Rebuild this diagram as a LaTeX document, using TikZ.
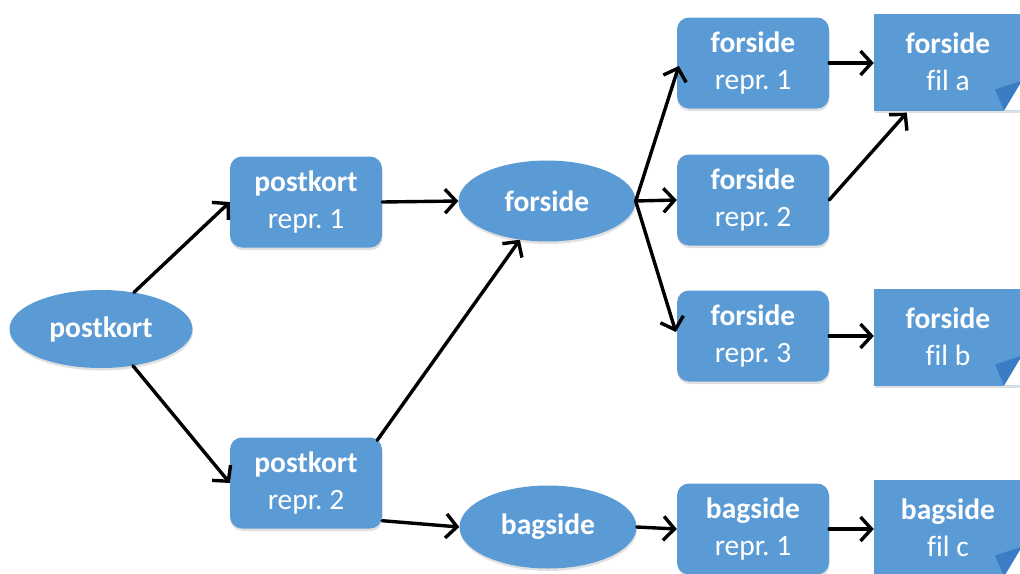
\documentclass[tikz,border=0pt]{standalone}
\usepackage{fontspec}
\setmainfont{Carlito}[Ligatures=NoCommon]
\usetikzlibrary{shapes.geometric,arrows.meta,calc,shadows}

\definecolor{boxblue}{RGB}{91,155,213}
\definecolor{foldblue}{RGB}{58,125,196}

\tikzset{
  base/.style={fill=boxblue, draw=none, text=white, align=center,
    font=\frenchspacing\fontsize{29.5}{37}\selectfont,
    drop shadow={shadow xshift=0.5pt, shadow yshift=-2.5pt, opacity=0.12, fill=black}},
  oval/.style={base, ellipse, inner sep=0pt, font=\bfseries\fontsize{29.5}{37}\selectfont},
  reprbox/.style={base, rectangle, rounded corners=12pt, minimum width=152pt, minimum height=91pt, inner sep=0pt},
  filebox/.style={base, rectangle, minimum width=148pt, minimum height=97pt, inner sep=0pt,
    path picture={
      \coordinate (se) at (path picture bounding box.south east);
      \fill[white] (se) -- +(-18,0) -- +(0,-30) -- cycle;
      \fill[foldblue] ($(se)+(-18,0)$) -- ($(se)+(-27,-21)$) -- ($(se)+(0,-30)$) -- cycle;
    }},
  link/.style={draw=black, line width=3.4pt, line cap=round, line join=round,
    -{Straight Barb[length=11pt,width=24pt,line width=3.4pt]}},
}

\begin{document}
\begin{tikzpicture}[x=1pt, y=-1pt]
  \useasboundingbox (0,0) rectangle (1020,573);

  % ellipses
  \node[oval, minimum width=183pt, minimum height=78pt] (pk) at (101,329) {postkort};
  \node[oval, minimum width=177pt, minimum height=81pt] (fs) at (547,201) {forside};
  \node[oval, minimum width=177pt, minimum height=83pt] (bg) at (548,527) {bagside};

  % representation boxes
  \node[reprbox] (pk1) at (306,202) {\textbf{postkort}\\repr. 1};
  \node[reprbox] (pk2) at (306,483) {\textbf{postkort}\\repr. 2};
  \node[reprbox] (fr1) at (753,63)  {\textbf{forside}\\repr. 1};
  \node[reprbox] (fr2) at (753,200) {\textbf{forside}\\repr. 2};
  \node[reprbox] (fr3) at (753,336) {\textbf{forside}\\repr. 3};
  \node[reprbox] (bg1) at (753,529) {\textbf{bagside}\\repr. 1};

  % file documents
  \node[filebox] (fa) at (948,62)  {\textbf{forside}\\fil a};
  \node[filebox] (fb) at (948,337) {\textbf{forside}\\fil b};
  \node[filebox] (fc) at (948,528) {\textbf{bagside}\\fil c};

  % connectors
  \draw[link] (pk.48) -- (pk1.west);
  \draw[link] (pk.-49) -- (pk2.west);
  \draw[link] (pk1.east) -- (fs.west);
  \draw[link] ($(pk2.north east)+(-5,3)$) -- (fs.235);
  \draw[link] ($(pk2.south east)+(0,-8)$) -- (bg.west);
  \draw[link] (fs.east) -- ($(fr1.west)+(2,3)$);
  \draw[link] (fs.east) -- (fr2.west);
  \draw[link] (fs.east) -- ($(fr3.west)+(-1,-4)$);
  \draw[link] (fr1.east) -- (fa.west |- fr1.east);
  \draw[link] (fr2.east) -- ($(fa.south west)+(33,2)$);
  \draw[link] (fr3.east) -- (fb.west |- fr3.east);
  \draw[link] (bg.east) -- (bg1.west);
  \draw[link] (bg1.east) -- (fc.west |- bg1.east);
\end{tikzpicture}
\end{document}
